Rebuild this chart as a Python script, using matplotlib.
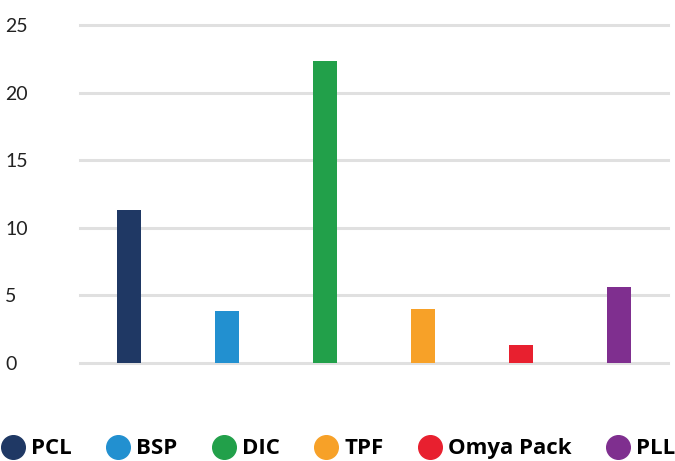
import matplotlib.pyplot as plt
from matplotlib.lines import Line2D

categories = ["PCL", "BSP", "DIC", "TPF", "Omya Pack", "PLL"]
values = [11.3, 3.85, 22.3, 4.0, 1.3, 5.6]
colors = ["#1f3864", "#2290d0", "#22a04a", "#f7a128", "#e8202f", "#7f2f8f"]
yticks = [0, 5, 10, 15, 20, 25]

plt.rcParams['font.family'] = ['Lato', 'DejaVu Sans']

fig = plt.figure(figsize=(6.75, 4.61), dpi=100)
ax = fig.add_axes([0.1185, 0.2126, 0.8715, 0.7332])

x = range(len(categories))
ax.bar(x, values, width=0.25, color=colors, zorder=3)

ax.set_xlim(-0.5, len(categories) - 0.5)
ax.set_ylim(0, 25)
ax.set_yticks(yticks)
ax.set_yticklabels([str(v) for v in yticks], fontsize=14, color="#222222")
ax.set_xticks([])
for s in ax.spines.values():
    s.set_visible(False)
ax.tick_params(axis="y", length=0, pad=54)
for v in yticks:
    ax.axhline(v, color="#e0e0e0", lw=2.2, zorder=1, clip_on=False)
for lbl in ax.get_yticklabels():
    lbl.set_horizontalalignment("left")

handles = [Line2D([], [], marker="o", ls="", markersize=17, color=c) for c in colors]
leg = fig.legend(handles, categories, loc="lower center", ncol=6, frameon=False,
                 bbox_to_anchor=(0.5, -0.04), handletextpad=0.2, columnspacing=1.5,
                 handlelength=1.2, prop={"family": "Open Sans", "weight": "bold", "size": 16})

fig.savefig("out.png", dpi=100)
